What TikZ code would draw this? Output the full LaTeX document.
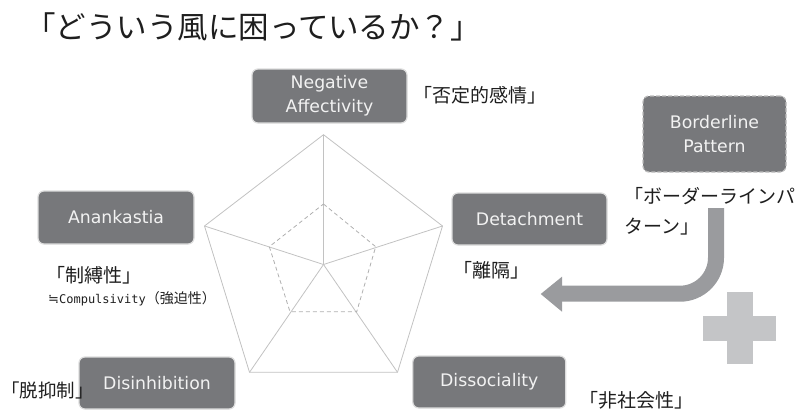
\documentclass[tikz,border=0pt]{standalone}
\usepackage{fontspec}
\newfontfamily\jp{Noto Sans CJK JP}
\newfontfamily\boxfont{DejaVu Sans}
\newfontfamily\monof{DejaVu Sans Mono}
\definecolor{boxgray}{HTML}{77787B}
\definecolor{boxedge}{HTML}{DCDCDC}
\definecolor{boxtext}{HTML}{F2F2F2}
\definecolor{webgray}{HTML}{C2C2C2}
\definecolor{arrowgray}{HTML}{9A9B9E}
\definecolor{plusgray}{HTML}{C4C5C7}
\definecolor{labelblack}{HTML}{1E1E1E}
\begin{document}
\begin{tikzpicture}[x=1pt,y=-1pt,
  traitbox/.style={draw=boxedge, line width=1.2pt, fill=boxgray, rounded corners=6pt,
    text=boxtext, font=\boxfont\fontsize{17.3}{24}\selectfont, align=center, inner sep=0pt},
  jplabel/.style={font=\jp\fontsize{19}{30}\selectfont, inner sep=0pt, text=labelblack},
  webline/.style={draw=webgray, line width=0.8pt},
  innerweb/.style={draw=webgray!90!black, line width=0.8pt, dashed, dash pattern=on 4pt off 3pt}]
\useasboundingbox (0,0) rectangle (803,410);

% title
\node[font=\jp\fontsize{30.5}{31}\selectfont, text=labelblack, inner sep=0pt] (title) at (253,27) {「どういう風に困っているか？」};

% radar pentagon
\coordinate (c) at (323.5,264.5);
\coordinate (v1) at (323.5,134.7);
\coordinate (v2) at (442.5,226);
\coordinate (v3) at (397.5,372.3);
\coordinate (v4) at (249.5,372.3);
\coordinate (v5) at (204.5,226);
\coordinate (w1) at (323.5,204);
\coordinate (w2) at (375.7,246.7);
\coordinate (w3) at (356.7,311.7);
\coordinate (w4) at (290,311.7);
\coordinate (w5) at (269.3,246.7);
\draw[webline] (v1) -- (v2) -- (v3) -- (v4) -- (v5) -- cycle;
\foreach \v in {v1,v2,v3,v4,v5} \draw[webline] (c) -- (\v);
\draw[innerweb] (w1) -- (w2) -- (w3) -- (w4) -- (w5) -- cycle;

% trait boxes
\node[traitbox, minimum width=155pt, minimum height=54pt] (na) at (329.5,96) {Negative\\Affectivity};
\node[traitbox, minimum width=143pt, minimum height=76pt, dashed, dash pattern=on 4pt off 2pt, draw=boxedge!85!black] (bp) at (714.5,134) {Borderline\\Pattern};
\node[traitbox, minimum width=156pt, minimum height=53pt] (an) at (116,217.5) {Anankastia};
\node[traitbox, minimum width=155pt, minimum height=52pt] (de) at (529.5,219) {Detachment};
\node[traitbox, minimum width=156pt, minimum height=52pt] (di) at (157,383) {Disinhibition};
\node[traitbox, minimum width=153pt, minimum height=52pt] (ds) at (489.3,382) {Dissociality};

% japanese labels
\node[jplabel] (naj) at (480,95) {「否定的感情」};
\node[jplabel, anchor=west, align=left] (bpj) at (624,211.7) {「ボーダーラインパ\\ターン」};
\node[jplabel] (anj) at (94,275) {「制縛性」};
\node[inner sep=0pt, anchor=west, text=labelblack] (anc) at (48,299)
  {{\boxfont\fontsize{13}{13}\selectfont ≒}{\monof\fontsize{12}{12}\selectfont Compulsivity}{\jp\fontsize{14}{14}\selectfont （強迫性）}};
\node[jplabel] (dej) at (491,270) {「離隔」};
\node[jplabel, font=\jp\fontsize{18.5}{30}\selectfont] (dij) at (47.5,390) {「脱抑制」};
\node[jplabel] (dsj) at (636,400) {「非社会性」};

% curved arrow
\coordinate (arrtop) at (716,208);
\coordinate (arrbend) at (716,293.7);
\coordinate (arrneck) at (561,293.7);
\draw[arrowgray, line width=16pt, rounded corners=36pt] (arrtop) -- (arrbend) -- (arrneck);
\fill[arrowgray] (562,276.7) -- (540.7,294) -- (562,311.7) -- cycle;

% plus sign
\fill[plusgray] (726.7,291.7) rectangle (752.7,364);
\fill[plusgray] (703,315.7) rectangle (776,340.7);
\end{tikzpicture}
\end{document}
